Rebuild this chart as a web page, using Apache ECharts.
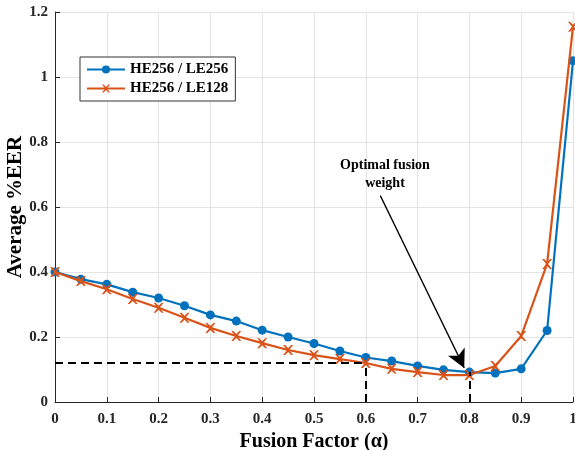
<!DOCTYPE html>
<html>
<head>
<meta charset="UTF-8"/>
<script type="text/javascript" src="https://cdn.jsdelivr.net/npm/echarts@6/dist/echarts.min.js"></script>
<style>
  html, body { margin: 0; padding: 0; background: #fff; }
  #main { width: 575px; height: 450px; }
</style>
</head>
<body>
<div id="main"></div>
<script type="text/javascript">
// fusion factor (x) and average %EER for both systems
var alpha = [0, 0.05, 0.1, 0.15, 0.2, 0.25, 0.3, 0.35, 0.4, 0.45, 0.5,
             0.55, 0.6, 0.65, 0.7, 0.75, 0.8, 0.85, 0.9, 0.95, 1];
var eer256 = [0.40, 0.378, 0.362, 0.338, 0.32, 0.296, 0.268, 0.249, 0.221, 0.2, 0.18,
              0.157, 0.137, 0.126, 0.111, 0.099, 0.092, 0.089, 0.102, 0.22, 1.05];
var eer128 = [0.40, 0.372, 0.347, 0.317, 0.29, 0.259, 0.228, 0.203, 0.181, 0.16, 0.144,
              0.132, 0.12, 0.102, 0.092, 0.083, 0.083, 0.111, 0.203, 0.425, 1.155];
var names = ['HE256 / LE256', 'HE256 / LE128'];

var serif = '"Liberation Serif", "DejaVu Serif", serif';
var xMark = 'path://M0,0 L2,0 L5,3 L8,0 L10,0 L6,5 L10,10 L8,10 L5,7 L2,10 L0,10 L4,5 Z';

function pairs(ys) {
    var out = [];
    for (var i = 0; i < alpha.length; i++) out.push([alpha[i], ys[i]]);
    return out;
}

var myChart = echarts.init(document.getElementById('main'));
var option = {
    animation: false,
    grid: { left: 55, right: 2, top: 12, bottom: 48, outerBoundsMode: 'none', containLabel: false },
    legend: {
        orient: 'vertical',
        left: 80, top: 57,
        backgroundColor: '#fff',
        borderColor: '#333',
        borderWidth: 1,
        padding: [5, 7, 5, 6],
        itemGap: 4,
        itemWidth: 38,
        itemHeight: 10,
        textStyle: { fontFamily: serif, fontWeight: 'bold', fontSize: 15, color: '#000' },
        data: names
    },
    xAxis: {
        type: 'value',
        min: 0, max: 1, interval: 0.1,
        name: 'Fusion Factor (\u03b1)',
        nameLocation: 'middle',
        nameGap: 30,
        nameMoveOverlap: false,
        nameTextStyle: { fontFamily: serif, fontWeight: 'bold', fontSize: 20, color: '#000' },
        axisLine: { lineStyle: { color: '#262626', width: 1 } },
        axisTick: { inside: true, length: 5, lineStyle: { color: '#262626' } },
        axisLabel: { fontFamily: serif, fontWeight: 'bold', fontSize: 15, color: '#262626', margin: 10 },
        splitLine: { show: true, lineStyle: { color: '#e3e3e3', width: 1 } }
    },
    yAxis: {
        type: 'value',
        min: 0, max: 1.2, interval: 0.2,
        name: 'Average %EER',
        nameLocation: 'middle',
        nameGap: 29,
        nameMoveOverlap: false,
        nameTextStyle: { fontFamily: serif, fontWeight: 'bold', fontSize: 21, color: '#000' },
        axisLine: { show: true, lineStyle: { color: '#262626', width: 1 } },
        axisTick: { show: true, inside: true, length: 5, lineStyle: { color: '#262626' } },
        axisLabel: { fontFamily: serif, fontWeight: 'bold', fontSize: 15, color: '#262626', margin: 7 },
        splitLine: { show: true, lineStyle: { color: '#e3e3e3', width: 1 } }
    },
    series: [
        {
            name: names[0],
            type: 'line',
            data: pairs(eer256),
            color: '#0072BD',
            symbol: 'circle',
            symbolSize: 9,
            lineStyle: { width: 2.2 },
            z: 3
        },
        {
            name: names[1],
            type: 'line',
            data: pairs(eer128),
            color: '#D95319',
            symbol: xMark,
            symbolSize: 10,
            lineStyle: { width: 2.2 },
            z: 4,
            markLine: {
                silent: true,
                symbol: ['none', 'none'],
                label: { show: false },
                lineStyle: { color: '#000', type: [8, 5], width: 2 },
                data: [
                    [{ coord: [0, 0.12] }, { coord: [0.6, 0.12] }],
                    [{ coord: [0.6, 0] }, { coord: [0.6, 0.12] }],
                    [{ coord: [0.8, 0] }, { coord: [0.8, 0.092] }]
                ]
            }
        },
        {
            // annotation arrow + text
            type: 'line',
            data: [],
            silent: true,
            markLine: {
                symbol: ['none', 'arrow'],
                symbolSize: [14, 18],
                label: { show: false },
                lineStyle: { color: '#000', type: 'solid', width: 1.3 },
                data: [
                    [{ coord: [0.628, 0.635] }, { coord: [0.79, 0.105] }]
                ]
            },
            markPoint: {
                symbol: 'circle',
                symbolSize: 0,
                label: {
                    show: true,
                    formatter: 'Optimal fusion\nweight',
                    fontFamily: serif, fontWeight: 'bold', fontSize: 14, color: '#000',
                    lineHeight: 18, align: 'center'
                },
                data: [{ coord: [0.637, 0.7] }]
            }
        }
    ]
};
myChart.setOption(option);
</script>
</body>
</html>
